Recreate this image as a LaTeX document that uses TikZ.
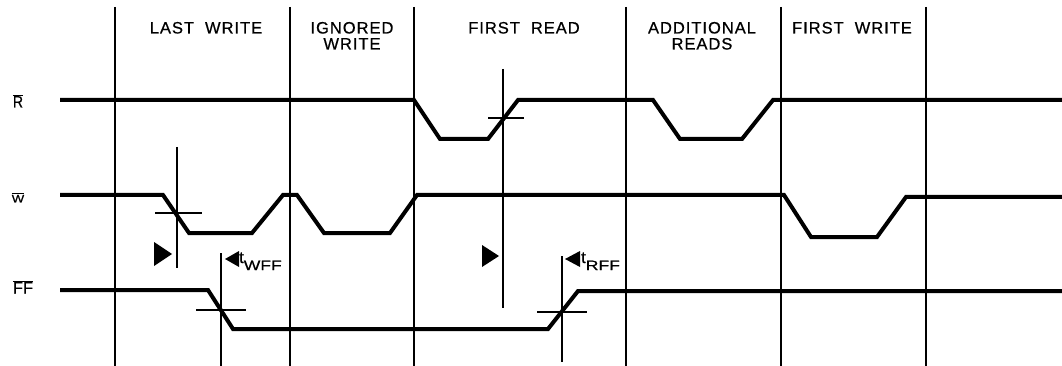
\documentclass[tikz,border=0pt]{standalone}
\usepackage{fontspec}
\usepackage{graphicx}
\setmainfont[FakeBold=0.6]{Liberation Sans}
\newfontfamily\lblfont[LetterSpace=6,FakeBold=0.6]{Liberation Sans}
\newcommand{\wsp}{\hspace{11pt}}
\newcommand{\subtext}[1]{\raisebox{-7pt}{\fontsize{13.5}{13.5}\selectfont\scalebox{1.3}[1]{#1}}}
\begin{document}
\begin{tikzpicture}[x=1pt,y=-1pt,
  sig/.style={line width=4pt,line join=miter},
  grid/.style={line width=2pt},
  tick/.style={line width=1.8pt},
  hdr/.style={font=\lblfont\fontsize{16.5}{14}\selectfont,anchor=base,inner sep=0pt},
  sname/.style={font=\fontsize{16.5}{16}\selectfont,inner sep=0pt,anchor=base},
  tlab/.style={font=\fontsize{16.5}{16}\selectfont,inner sep=0pt,anchor=base west}]
\useasboundingbox (0,0) rectangle (1062,366);
\fill[white] (0,0) rectangle (1062,366);
% grid lines
\foreach \x in {115,290,414,626,781,926}
  \draw[grid] (\x,7) -- (\x,366);
% headers
\node[hdr] (h1) at (206,33.5) {LAST\wsp WRITE};
\node[hdr] (h2a) at (352,33.5) {IGNORED};
\node[hdr] (h2b) at (352,49.5) {WRITE};
\node[hdr] (h3) at (524,33.5) {FIRST\wsp READ};
\node[hdr] (h4a) at (702,33.5) {ADDITIONAL};
\node[hdr] (h4b) at (702,49.5) {READS};
\node[hdr] (h5) at (852,33.5) {FIRST\wsp WRITE};
% signal names
\node[sname] (nR) at (18,107.5) {$\overline{\hbox{\scalebox{0.85}[1]{R}}}$};
\node[sname,font=\fontsize{11}{11}\selectfont] (nW) at (18,202.5) {$\overline{\hbox{\scalebox{1.2}[1]{W}}}$};
\node[sname] (nFF) at (23,293.5) {$\overline{\hbox{FF}}$};
% R signal
\draw[sig] (60,100) -- (414,100) -- (440,139) -- (488,139) -- (518,100) -- (653,100)
  -- (680,139) -- (742,139) -- (773,100) -- (1062,100);
% W signal
\draw[sig] (60,195) -- (163,195) -- (189,233) -- (252,233) -- (283,195) -- (297,195)
  -- (324,233) -- (390,233) -- (417,195) -- (784,195) -- (811,237) -- (877,237)
  -- (906,197) -- (1062,197);
% FF signal
\draw[sig] (60,290) -- (208,290) -- (233,329) -- (548,329) -- (578,291) -- (1062,291);
% markers
\draw[tick] (177,147) -- (177,268);
\draw[tick] (155,213) -- (202,213);
\fill (154,242) -- (172,254) -- (154,266) -- cycle;
\draw[tick] (221,253) -- (221,366);
\draw[tick] (196,310) -- (246,310);
\fill (225,259) -- (239,251) -- (239,267) -- cycle;
\node[tlab] (tw) at (239,263) {t\subtext{WFF}};
\draw[tick] (503,69) -- (503,308);
\draw[tick] (488,118) -- (524,118);
\fill (482,245) -- (499,256) -- (482,267) -- cycle;
\draw[tick] (562,256) -- (562,362);
\draw[tick] (537,312) -- (587,312);
\fill (565,259) -- (580,251) -- (580,267) -- cycle;
\node[tlab] (tr) at (581,263) {t\subtext{RFF}};
\end{tikzpicture}
\end{document}
